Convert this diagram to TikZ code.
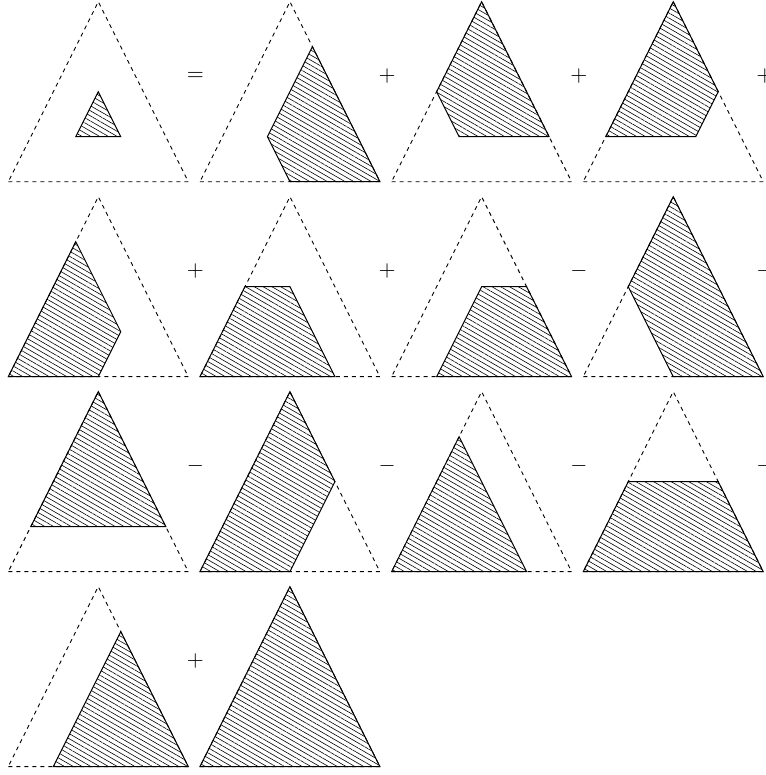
\documentclass[tikz,border=0pt]{standalone}
\usetikzlibrary{patterns.meta}
\tikzset{
  outer/.style={line width=0.45pt, dash pattern=on 2pt off 2pt},
  region/.style={line width=0.5pt, draw=black, line join=miter,
     pattern={Lines[angle=-30,distance=2.2pt,line width=0.3pt]}},
  op/.style={inner sep=0pt, outer sep=0pt, font=\fontsize{11}{13}\selectfont}
}
\newcommand{\mypanel}[3]{%
  \begin{scope}[shift={({0.184+4.259*#1},{13.184-4.333*#2})}]
    \draw[outer] (0,0) -- (4,0) -- (2,4) -- cycle;
    \draw[region] #3 -- cycle;
  \end{scope}}
\begin{document}
\begin{tikzpicture}[x=22.5pt,y=22.5pt]
\useasboundingbox (0,0) rectangle (17.022,17.222);
% row 1
\mypanel{0}{0}{(1.5,1) -- (2.5,1) -- (2,2)}
\mypanel{1}{0}{(2.5,3) -- (1.5,1) -- (2,0) -- (4,0)}
\mypanel{2}{0}{(2,4) -- (1,2) -- (1.5,1) -- (3.5,1)}
\mypanel{3}{0}{(2,4) -- (3,2) -- (2.5,1) -- (0.5,1)}
% row 2
\mypanel{0}{1}{(1.5,3) -- (2.5,1) -- (2,0) -- (0,0)}
\mypanel{1}{1}{(0,0) -- (1,2) -- (2,2) -- (3,0)}
\mypanel{2}{1}{(1,0) -- (2,2) -- (3,2) -- (4,0)}
\mypanel{3}{1}{(2,4) -- (1,2) -- (2,0) -- (4,0)}
% row 3
\mypanel{0}{2}{(2,4) -- (0.5,1) -- (3.5,1)}
\mypanel{1}{2}{(2,4) -- (3,2) -- (2,0) -- (0,0)}
\mypanel{2}{2}{(0,0) -- (1.5,3) -- (3,0)}
\mypanel{3}{2}{(0,0) -- (1,2) -- (3,2) -- (4,0)}
% row 4
\mypanel{0}{3}{(1,0) -- (2.5,3) -- (4,0)}
\mypanel{1}{3}{(0,0) -- (2,4) -- (4,0)}
% operators
\node[op] (o11) at (4.344,15.533) {$=$};
\node[op] (o12) at (8.603,15.533) {$+$};
\node[op] (o13) at (12.862,15.533) {$+$};
\node[op] (o14) at (17.0,15.533) {$+$};
\node[op] (o21) at (4.344,11.200) {$+$};
\node[op] (o22) at (8.603,11.200) {$+$};
\node[op] (o23) at (12.862,11.200) {$-$};
\node[op] (o24) at (17.0,11.200) {$-$};
\node[op] (o31) at (4.344,6.867) {$-$};
\node[op] (o32) at (8.603,6.867) {$-$};
\node[op] (o33) at (12.862,6.867) {$-$};
\node[op] (o34) at (17.0,6.867) {$-$};
\node[op] (o41) at (4.344,2.533) {$+$};
\end{tikzpicture}
\end{document}
